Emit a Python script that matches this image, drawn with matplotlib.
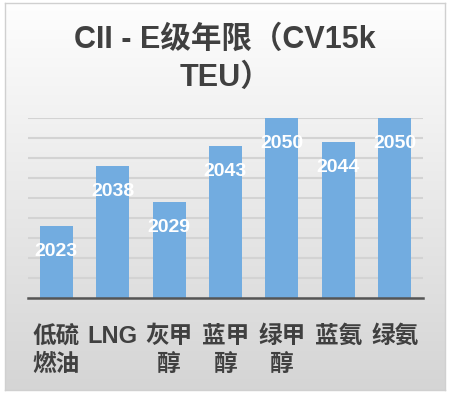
import matplotlib.pyplot as plt
import numpy as np

plt.rcParams['font.family'] = ['Liberation Sans', 'Noto Sans CJK SC', 'DejaVu Sans']

categories = ["低硫\n燃油", "LNG", "灰甲\n醇", "蓝甲\n醇", "绿甲\n醇", "蓝氨", "绿氨"]
years = [2023, 2038, 2029, 2043, 2050, 2044, 2050]
y_ticks = [2005, 2010, 2015, 2020, 2025, 2030, 2035, 2040, 2045, 2050]

fig = plt.figure(figsize=(4.5, 3.94), dpi=100)
fig.patch.set_facecolor('white')

# gradient card behind the chart
bg = fig.add_axes([5/450, 4/394, 440/450, 387/394])
grad = np.linspace(0, 1, 256).reshape(-1, 1)
top_c = np.array([0.995, 0.995, 0.995])
bot_c = np.array([0.835, 0.835, 0.835])
img = top_c + grad[..., None] * (bot_c - top_c)
bg.imshow(img, aspect='auto', extent=[0, 1, 0, 1])
bg.set_xticks([])
bg.set_yticks([])
for s in bg.spines.values():
    s.set_color('#d0d0d0')
    s.set_linewidth(1.0)
bg.set_zorder(0)

ax = fig.add_axes([28/450, 96/394, 395/450, 180/394])
ax.set_zorder(1)
ax.patch.set_alpha(0)

x = np.arange(len(categories))
ax.bar(x, years, width=0.585, color='#72ACE0', zorder=3)
ax.set_ylim(y_ticks[0], y_ticks[-1])
ax.set_xlim(-0.5, len(categories) - 0.5)
ax.set_yticks(y_ticks)
ax.yaxis.grid(True, color='#d3d3d3', linewidth=1.5, zorder=0)
ax.tick_params(axis='y', left=False, labelleft=False)
ax.tick_params(axis='x', bottom=False, pad=16)

for xi, v in zip(x, years):
    ax.annotate(str(v), (xi, v), xytext=(0, -25), textcoords='offset pixels',
                ha='center', va='center', color='white', fontsize=14,
                fontweight='bold', zorder=4)

ax.set_xticks(x)
ax.set_xticklabels(categories, fontsize=17, fontweight='bold', color='#404040',
                   linespacing=1.25, va='top')

for side in ['top', 'right', 'left']:
    ax.spines[side].set_visible(False)
ax.spines['bottom'].set_color('#555555')
ax.spines['bottom'].set_linewidth(1.8)
ax.spines['bottom'].set_zorder(5)

fig.text(0.5, 1 - 59/394, "CII - E级年限（CV15k\nTEU）", ha='center', va='center',
         fontsize=22, fontweight='bold', color='#404040', linespacing=1.32)

fig.savefig('out.png', dpi=100)
